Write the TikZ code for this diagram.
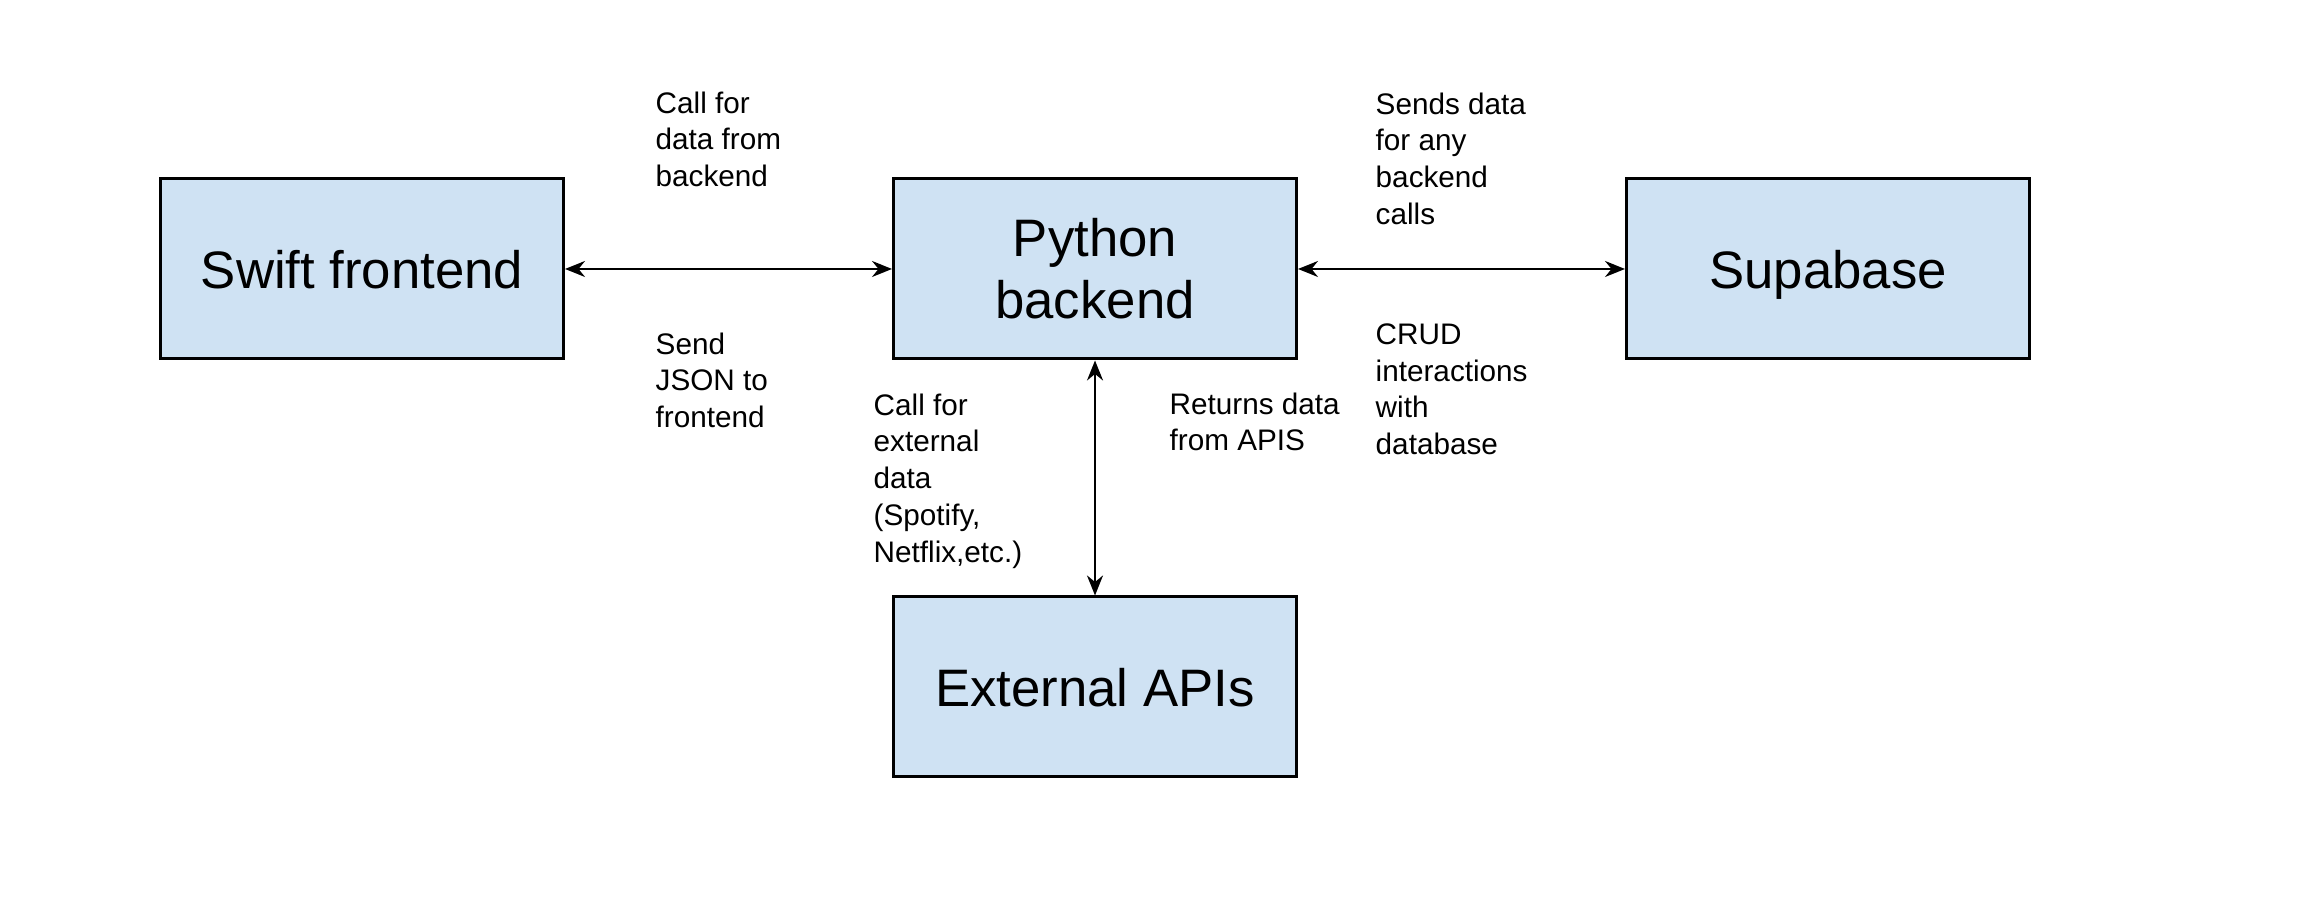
\documentclass[tikz,border=0pt]{standalone}
\usepackage{fontspec}
\setmainfont{Liberation Sans}
\definecolor{boxblue}{RGB}{207, 226, 243}
\usepackage{tikz}
\usetikzlibrary{arrows.meta,positioning}

\begin{document}
\begin{tikzpicture}[node distance=3.27cm,
    block/.style={rectangle, draw, line width=0.85pt, fill=boxblue, minimum width=4.03cm, minimum height=1.80cm, align=center, font=\fontsize{15}{17.6}\selectfont},
    oneline/.style={block, text height=0.385cm, text depth=0cm},
    note/.style={anchor=north west, inner sep=0pt, align=left, font=\fontsize{8.45}{10.45}\selectfont},
    link/.style={{Stealth[length=2mm,width=1.6mm]}-{Stealth[length=2mm,width=1.6mm]}, line width=0.6pt}]
    \useasboundingbox (0,0) rectangle (23.07,9.19);

    \node[block] at (10.95,6.50) (python) {Python\\backend};
    \node[oneline, left=of python] (swift) {Swift frontend};
    \node[oneline, right=of python] (supabase) {Supabase};
    \node[oneline, below=2.35cm of python] (apis) {External APIs};

    \draw[link] (swift) -- (python);
    \draw[link] (python) -- (supabase);
    \draw[link] (python) -- (apis);

    \node[note] at (6.55,8.28) (callbackend) {Call for\\data from\\backend};
    \node[note] at (6.55,5.87) (sendjson) {Send\\JSON to\\frontend};
    \node[note] at (8.73,5.26) (callexternal) {Call for\\external\\data\\(Spotify,\\Netflix,etc.)};
    \node[note] at (11.69,5.27) (returns) {Returns data\\from APIS};
    \node[note] at (13.75,8.27) (sends) {Sends data\\for any\\backend\\calls};
    \node[note] at (13.75,5.96) (crud) {CRUD\\interactions\\with\\database};
\end{tikzpicture}
\end{document}
